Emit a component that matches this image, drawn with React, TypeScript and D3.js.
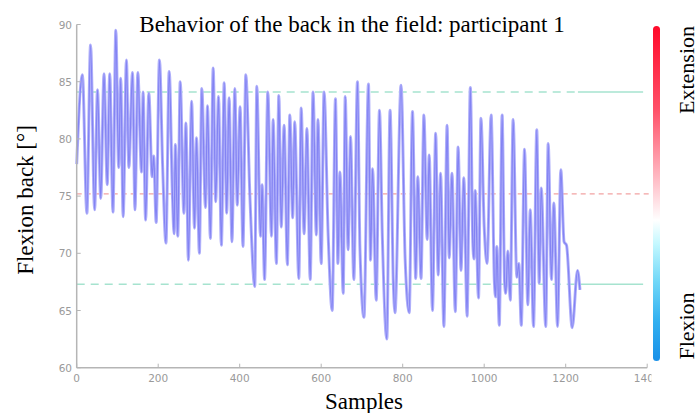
import React from "react";
import * as d3 from "d3";

const W = 699;
const H = 413;

// Signal extrema: [sample, degrees]
const samples: number[] = [
  0, 14, 25, 34, 44, 51, 59, 67, 75, 81, 89, 96, 103, 108, 114, 122, 128, 137, 143, 150,
  159, 163, 169, 177, 185, 189, 195, 203, 211, 219, 227, 235, 239, 242, 248, 254, 263, 268,
  274, 282, 289, 294, 301, 307, 316, 321, 328, 335, 341, 348, 355, 362, 368, 374, 381, 388,
  394, 401, 408, 415, 425, 437, 442, 451, 455, 461, 469, 478, 482, 490, 496, 502, 509, 517,
  523, 530, 535, 545, 551, 558, 565, 573, 580, 588, 592, 600, 607, 617, 627, 635, 641, 646,
  654, 659, 666, 672, 680, 689, 695, 705, 716, 721, 726, 735, 743, 750, 761, 769, 777, 781,
  796, 806, 816, 824, 832, 837, 845, 852, 860, 865, 873, 881, 887, 893, 901, 909, 914, 921,
  929, 936, 943, 950, 958, 966, 972, 975, 978, 986, 992, 1000, 1007, 1017, 1025, 1028, 1031,
  1037, 1044, 1050, 1053, 1058, 1064, 1071, 1080, 1085, 1091, 1099, 1107, 1113, 1121, 1129,
  1135, 1140, 1151, 1157, 1165, 1171, 1180, 1188, 1196, 1202, 1216, 1229, 1235,
];
const flexion: number[] = [
  77.8, 85.6, 73.5, 88.2, 73.8, 84.3, 74.8, 85.7, 76.0, 85.7, 73.6, 89.5, 77.5, 85.3, 73.2, 86.9, 77.5, 85.8, 73.8, 85.8,
  77.1, 84.1, 72.9, 84.0, 76.7, 78.5, 72.7, 86.9, 77.5, 70.9, 85.9, 75.0, 71.7, 79.5, 71.5, 85.0, 73.5, 81.4,
  69.4, 83.3, 72.2, 80.1, 70.0, 84.4, 74.0, 82.9, 71.3, 86.2, 74.5, 83.7, 70.7, 84.9, 73.5, 83.6, 71.0, 84.4,
  74.2, 82.8, 70.6, 85.6, 75.0, 67.1, 84.6, 71.5, 76.0, 67.7, 84.1, 71.5, 81.7, 69.1, 83.8, 72.3, 81.2, 69.0,
  82.1, 73.1, 81.5, 67.8, 82.7, 71.7, 80.9, 67.7, 84.1, 71.6, 81.7, 69.1, 84.1, 71.7, 65.0, 83.5, 69.1, 77.1,
  66.5, 83.7, 70.3, 80.2, 67.7, 85.0, 70.5, 64.4, 84.8, 69.4, 77.4, 65.9, 82.5, 71.5, 62.5, 82.5, 67.4, 64.8,
  84.7, 69.5, 64.8, 82.4, 67.8, 76.7, 67.8, 82.1, 71.2, 78.6, 65.0, 80.5, 68.1, 77.0, 63.6, 81.2, 69.6, 77.0,
  64.9, 79.3, 68.5, 76.6, 64.5, 84.5, 71.0, 69.5, 75.5, 66.1, 81.8, 72.3, 69.1, 82.1, 67.5, 66.2, 70.6,
  63.7, 82.1, 67.5, 66.5, 70.2, 65.9, 81.7, 67.9, 69.1, 63.7, 79.1, 65.5, 73.8, 63.6, 80.8,
  67.4, 75.7, 63.6, 79.6, 67.7, 74.4, 63.6, 77.3, 71.0, 70.7, 63.5, 68.5, 66.8,
];

const xTicks: number[] = [0, 200, 400, 600, 800, 1000, 1200, 1400];
const yTicks: number[] = [60, 65, 70, 75, 80, 85, 90];

const upperLimit = 84.1;
const meanLine = 75.2;
const lowerLimit = 67.3;
const dashedEnd = 1230;

const title = "Behavior of the back in the field: participant 1";
const yLabel = "Flexion back [°]";
const xLabel = "Samples";
const topLabel = "Extension";
const bottomLabel = "Flexion";

export default function App() {
  const x = d3.scaleLinear().domain([0, 1400]).range([76.7, 647.2]);
  const y = d3.scaleLinear().domain([60, 90]).range([367.7, 24.5]);

  const pts: [number, number][] = samples.map((s, i) => [s, flexion[i]]);
  const line = d3
    .line<[number, number]>()
    .x((d) => x(d[0]))
    .y((d) => y(d[1]))
    .curve(d3.curveMonotoneX);
  const path = line(pts) || "";

  const axisColor = "#b5b5b5";
  const tickColor = "#9a9a9a";
  const green = "#a6e3cf";
  const serif = "'Liberation Serif', 'Times New Roman', serif";

  const cbX = 653;
  const cbTop = 26;
  const cbBottom = 361;

  return (
    <svg width={W} height={H} style={{ position: "absolute", left: 0, top: 0, background: "#fff" }}>
      <defs>
        <linearGradient id="cb" x1="0" y1="0" x2="0" y2="1">
          <stop offset="0" stopColor="#ff0a2a" />
          <stop offset="0.25" stopColor="#ff5068" />
          <stop offset="0.45" stopColor="#ffb8c2" />
          <stop offset="0.58" stopColor="#ffffff" />
          <stop offset="0.65" stopColor="#c4f8ff" />
          <stop offset="0.76" stopColor="#72d8f8" />
          <stop offset="0.88" stopColor="#32b0f0" />
          <stop offset="1" stopColor="#1890e8" />
        </linearGradient>
        <clipPath id="tickclip">
          <rect x={0} y={0} width={651.5} height={H} />
        </clipPath>
      </defs>

      {/* reference lines */}
      <line x1={x(0)} x2={x(dashedEnd)} y1={y(upperLimit)} y2={y(upperLimit)} stroke={green} strokeWidth={1.6} strokeDasharray="8 6" />
      <line x1={x(dashedEnd)} x2={x(1390)} y1={y(upperLimit)} y2={y(upperLimit)} stroke={green} strokeWidth={1.6} />
      <line x1={x(0)} x2={x(dashedEnd)} y1={y(lowerLimit)} y2={y(lowerLimit)} stroke={green} strokeWidth={1.6} strokeDasharray="8 6" />
      <line x1={x(dashedEnd)} x2={x(1390)} y1={y(lowerLimit)} y2={y(lowerLimit)} stroke={green} strokeWidth={1.6} />
      <line x1={x(0)} x2={x(1408)} y1={y(meanLine)} y2={y(meanLine)} stroke="#f2a2a2" strokeWidth={1.2} strokeDasharray="5 4" />

      {/* signal */}
      <path d={path} fill="none" stroke="#afaffa" strokeWidth={3} strokeLinejoin="round" />
      <path d={path} fill="none" stroke="#7474f0" strokeWidth={1.2} strokeLinejoin="round" opacity={0.75} />

      {/* axes */}
      <line x1={x(0)} x2={x(1400)} y1={y(60)} y2={y(60)} stroke={axisColor} strokeWidth={1.5} />
      <line x1={x(0)} x2={x(0)} y1={y(60)} y2={y(90)} stroke={axisColor} strokeWidth={1.5} />
      {xTicks.map((t) => (
        <g key={"x" + t}>
          <line x1={x(t)} x2={x(t)} y1={y(60)} y2={y(60) - 4} stroke={axisColor} strokeWidth={1} />
          <text
            x={x(t)}
            y={381.5}
            textAnchor="middle"
            fontFamily="'DejaVu Sans', sans-serif"
            fontSize={10.5}
            fill={tickColor}
            clipPath="url(#tickclip)"
          >
            {t}
          </text>
        </g>
      ))}
      {yTicks.map((t) => (
        <g key={"y" + t}>
          <line x1={x(0)} x2={x(0) + 4} y1={y(t)} y2={y(t)} stroke={axisColor} strokeWidth={1} />
          <text
            x={72}
            y={y(t) + 4}
            textAnchor="end"
            fontFamily="'DejaVu Sans', sans-serif"
            fontSize={10.5}
            fill={tickColor}
          >
            {t}
          </text>
        </g>
      ))}

      {/* colour bar */}
      <rect x={cbX} y={cbTop} width={7} height={cbBottom - cbTop} rx={3.5} fill="url(#cb)" />

      {/* texts */}
      <text x={352} y={32} textAnchor="middle" fontFamily={serif} fontSize={23} fill="#000">
        {title}
      </text>
      <text x={364} y={409} textAnchor="middle" fontFamily={serif} fontSize={23} fill="#000">
        {xLabel}
      </text>
      <text transform="translate(33,200) rotate(-90)" textAnchor="middle" fontFamily={serif} fontSize={23} fill="#000">
        {yLabel}
      </text>
      <text transform="translate(694,70) rotate(-90)" textAnchor="middle" fontFamily={serif} fontSize={22} fill="#000">
        {topLabel}
      </text>
      <text transform="translate(694,326) rotate(-90)" textAnchor="middle" fontFamily={serif} fontSize={22} fill="#000">
        {bottomLabel}
      </text>
    </svg>
  );
}
